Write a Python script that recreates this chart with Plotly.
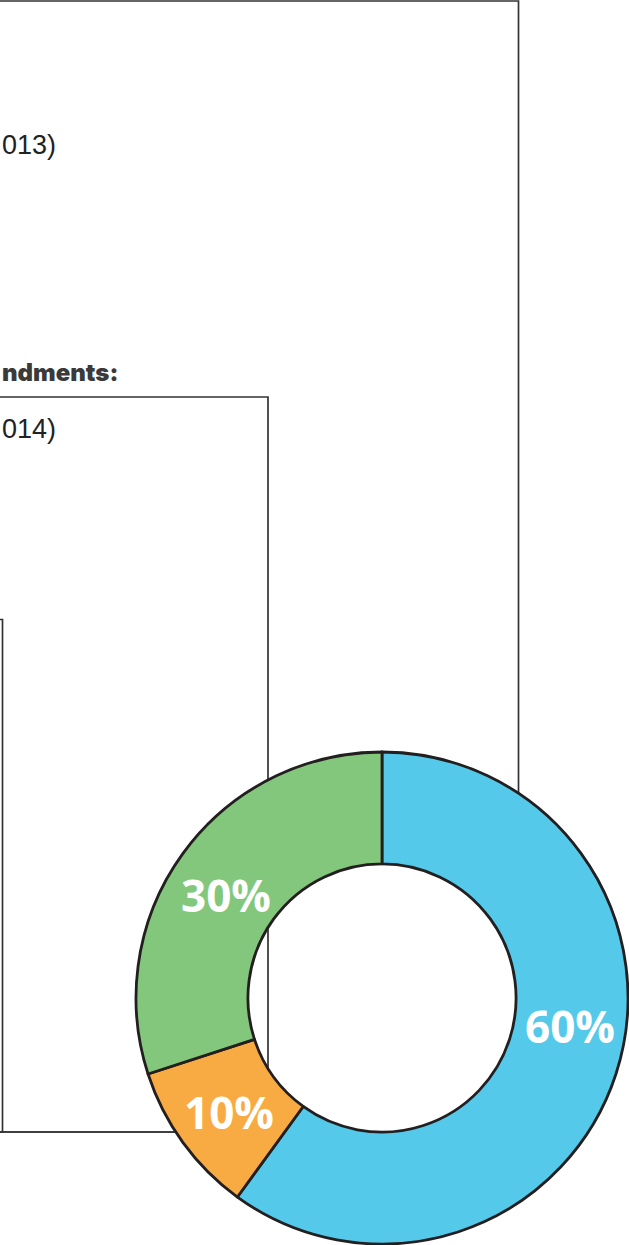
import plotly.graph_objects as go

# Data
segment_labels = ["Blue", "Orange", "Green"]
segment_values = [60, 10, 30]
segment_colors = ["#54c9ea", "#f9ab43", "#83c77c"]
text_lines = ["013)", "ndments:", "014)"]

W, H = 629, 1245

fig = go.Figure()

fig.add_trace(go.Pie(
    labels=segment_labels,
    values=segment_values,
    marker=dict(colors=segment_colors, line=dict(color="#231f20", width=2.8)),
    hole=0.545,
    sort=False,
    direction="clockwise",
    rotation=0,
    textinfo="none",
    showlegend=False,
    hoverinfo="label+percent",
    domain=dict(x=[136 / W, 628 / W], y=[1 / H, 493 / H]),
))

line_style = dict(color="#333333", width=1.7)
shapes = [
    dict(type="rect", xref="x", yref="y", x0=-20, y0=1, x1=518.5, y1=1132, line=line_style, layer="below"),
    dict(type="rect", xref="x", yref="y", x0=-20, y0=397, x1=268, y1=1132, line=line_style, layer="below"),
    dict(type="rect", xref="x", yref="y", x0=-20, y0=619.5, x1=2.5, y1=1132, line=line_style, layer="below"),
]

label_font = dict(family="Open Sans", size=44, color="white", weight="bold")
label_pos = [(570, 1026), (229, 1112), (226, 895)]

annotations = [
    dict(text=text_lines[0], x=0, y=145, xref="x", yref="y", xanchor="left", yanchor="middle",
         showarrow=False, font=dict(family="Liberation Sans", size=27, color="#222222")),
    dict(text=text_lines[1], x=0, y=372, xref="x", yref="y", xanchor="left", yanchor="middle",
         showarrow=False, font=dict(family="Inter", size=24, color="#3a3a3a", weight=900)),
    dict(text=text_lines[2], x=0, y=429, xref="x", yref="y", xanchor="left", yanchor="middle",
         showarrow=False, font=dict(family="Liberation Sans", size=27, color="#222222")),
]
for v, (lx, ly) in zip(segment_values, label_pos):
    annotations.append(dict(text=f"{v}%", x=lx, y=ly, xref="x", yref="y", xanchor="center",
                            yanchor="middle", showarrow=False, font=label_font))

fig.update_layout(
    width=W, height=H,
    margin=dict(l=0, r=0, t=0, b=0),
    paper_bgcolor="white", plot_bgcolor="rgba(0,0,0,0)",
    xaxis=dict(range=[0, W], visible=False, fixedrange=True),
    yaxis=dict(range=[H, 0], visible=False, fixedrange=True),
    shapes=shapes,
    annotations=annotations,
)

fig.write_html("out.html", config={"displayModeBar": False},
               post_script="document.body.style.margin='0px';document.body.style.overflow='hidden';")
